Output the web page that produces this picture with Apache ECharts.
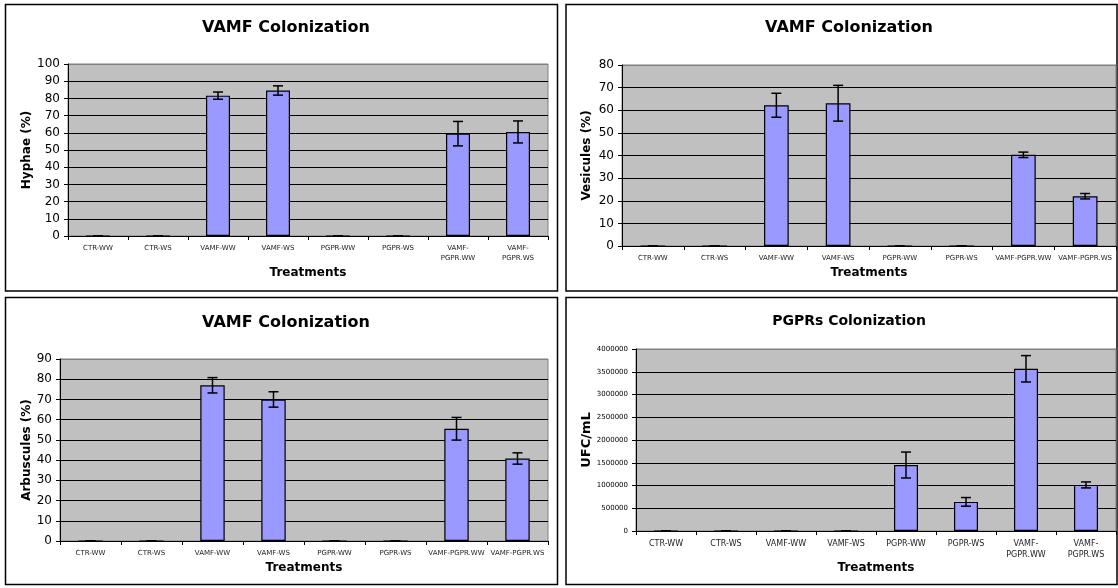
<!DOCTYPE html>
<html>
<head>
<meta charset="utf-8">
<script src="https://cdn.jsdelivr.net/npm/echarts@6/dist/echarts.min.js"></script>
<style>
html,body{margin:0;padding:0;background:#fff;}
#c{width:1118px;height:588px;}
</style>
</head>
<body>
<div id="c"></div>
<script>
// ---- data ----
const categories = ['CTR-WW','CTR-WS','VAMF-WW','VAMF-WS','PGPR-WW','PGPR-WS','VAMF-PGPR.WW','VAMF-PGPR.WS'];
const hyphae        = [0, 0, 81.6, 84.6, 0, 0, 59.5, 60.5];
const hyphaeErr     = [0, 0, 2.1, 2.7, 0, 0, 7.1, 6.4];
const vesicules     = [0, 0, 62.2, 63.1, 0, 0, 40.3, 22.0];
const vesiculesErr  = [0, 0, 5.3, 7.9, 0, 0, 1.2, 1.2];
const arbuscules    = [0, 0, 77.0, 70.0, 0, 0, 55.5, 40.8];
const arbusculesErr = [0, 0, 3.8, 3.8, 0, 0, 5.6, 2.8];
const ufc           = [0, 0, 0, 0, 1450000, 640000, 3565000, 1013000];
const ufcErr        = [0, 0, 0, 0, 285000, 95000, 290000, 66000];

const titles = ['VAMF Colonization','VAMF Colonization','VAMF Colonization','PGPRs Colonization'];
const yNames = ['Hyphae (%)','Vesicules (%)','Arbuscules (%)','UFC/mL'];
const xName = 'Treatments';
const yMax = [100, 80, 90, 4000000];
const yInterval = [10, 10, 10, 500000];

const values = [hyphae, vesicules, arbuscules, ufc];
const errors = [hyphaeErr, vesiculesErr, arbusculesErr, ufcErr];

// ---- layout ----
const FONT = 'DejaVu Sans';
const panels = [
  {bx:5.5, by:4.5, bw:552, bh:286.5, grid:{left:68, top:64, width:480, height:172}, titleX:281, titleTop:15, titleSize:16,
   yLabelSize:12, yNameSize:12, yNameGap:34, xLabelSize:7, xLabelMargin:7, xNameGap:31, wrap:true},
  {bx:566, by:4.5, bw:551, bh:286.5, grid:{left:622, top:65, width:494, height:181}, titleX:844, titleTop:15, titleSize:16,
   yLabelSize:12, yNameSize:12, yNameGap:29, xLabelSize:7, xLabelMargin:7, xNameGap:21, wrap:false},
  {bx:5.5, by:297.5, bw:552, bh:287, grid:{left:60, top:359, width:488, height:182}, titleX:281, titleTop:310, titleSize:16,
   yLabelSize:12, yNameSize:12, yNameGap:27, xLabelSize:7, xLabelMargin:7, xNameGap:21, wrap:false},
  {bx:566, by:297.5, bw:551, bh:287, grid:{left:636, top:349, width:480, height:182}, titleX:844, titleTop:309, titleSize:14,
   yLabelSize:7, yNameSize:13, yNameGap:41, xLabelSize:8, xLabelMargin:7, xNameGap:31, wrap:true}
];

function renderErr(params, api) {
  const i = api.value(0);
  const lo = api.coord([i, api.value(1)]);
  const hi = api.coord([i, api.value(2)]);
  const cap = 5;
  const st = {stroke:'#000', lineWidth:1.5};
  return {type:'group', children:[
    {type:'line', shape:{x1:lo[0], y1:lo[1], x2:hi[0], y2:hi[1]}, style:st},
    {type:'line', shape:{x1:lo[0]-cap, y1:lo[1], x2:lo[0]+cap, y2:lo[1]}, style:st},
    {type:'line', shape:{x1:hi[0]-cap, y1:hi[1], x2:hi[0]+cap, y2:hi[1]}, style:st}
  ]};
}

const option = {
  animation:false,
  backgroundColor:'#fff',
  textStyle:{fontFamily:FONT},
  title:[], grid:[], xAxis:[], yAxis:[], series:[], graphic:[]
};

panels.forEach((p, k) => {
  const nLines = Math.round(yMax[k] / yInterval[k]) + 1;
  const lineColors = Array(nLines).fill('#000');
  lineColors[nLines - 1] = '#808080';
  option.graphic.push({type:'rect', shape:{x:p.bx, y:p.by, width:p.bw, height:p.bh},
    style:{fill:null, stroke:'#000', lineWidth:1.5}, z:-1});
  option.title.push({text:titles[k], left:p.titleX, top:p.titleTop, textAlign:'center',
    textStyle:{fontFamily:FONT, fontWeight:'bold', fontSize:p.titleSize, color:'#000'}});
  option.grid.push(Object.assign({show:true, backgroundColor:'#C0C0C0', borderColor:'#808080', borderWidth:1}, p.grid));
  option.xAxis.push({type:'category', gridIndex:k, data:categories,
    name:xName, nameLocation:'middle', nameGap:p.xNameGap,
    nameTextStyle:{fontFamily:FONT, fontWeight:'bold', fontSize:12, color:'#000'},
    axisLine:{lineStyle:{color:'#000', width:1}},
    axisTick:{show:true, length:4, lineStyle:{color:'#000'}},
    axisLabel:{interval:0, fontSize:p.xLabelSize, color:'#222', margin:p.xLabelMargin, lineHeight:p.xLabelSize+3,
      formatter: p.wrap ? (v => v.replace('VAMF-PGPR', 'VAMF-\nPGPR')) : (v => v)},
    splitLine:{show:false}});
  option.yAxis.push({type:'value', gridIndex:k, min:0, max:yMax[k], interval:yInterval[k],
    name:yNames[k], nameLocation:'middle', nameGap:p.yNameGap, nameRotate:90,
    nameTextStyle:{fontFamily:FONT, fontWeight:'bold', fontSize:p.yNameSize, color:'#000'},
    axisLine:{show:true, lineStyle:{color:'#000', width:1}},
    axisTick:{show:true, length:4, lineStyle:{color:'#000'}},
    axisLabel:{fontSize:p.yLabelSize, color:'#000', margin:8, formatter: v => String(v)},
    splitLine:{show:true, lineStyle:{color:lineColors, width:1}}});
  option.series.push({type:'bar', xAxisIndex:k, yAxisIndex:k, data:values[k], barWidth:'40%',
    itemStyle:{color:'#9999FF', borderColor:'#000', borderWidth:1.2}, z:3});
  option.series.push({type:'custom', xAxisIndex:k, yAxisIndex:k, renderItem:renderErr,
    encode:{x:0, y:[1,2]},
    data: values[k].map((v, i) => [i, v - errors[k][i], v + errors[k][i]]), z:5});
});

const chart = echarts.init(document.getElementById('c'), null, {renderer:'canvas'});
chart.setOption(option);
</script>
</body>
</html>
